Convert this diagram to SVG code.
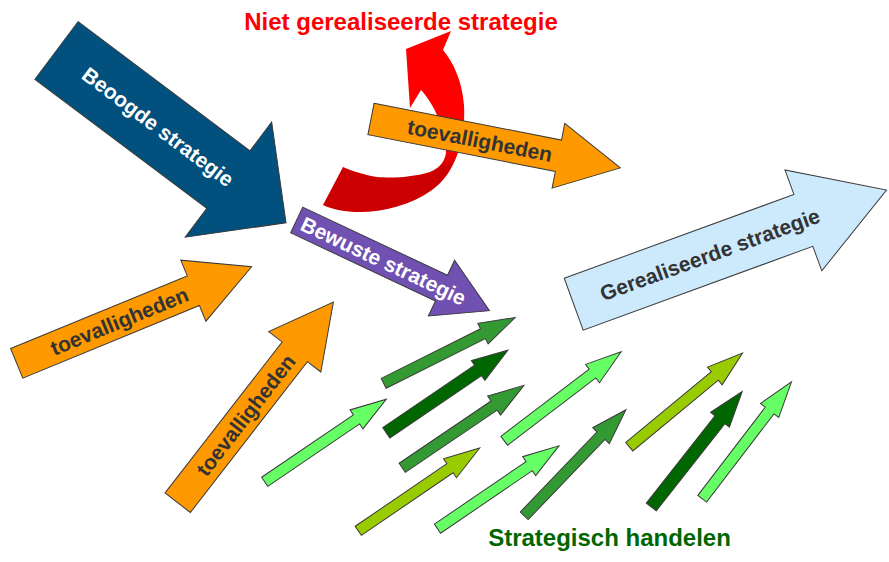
<svg xmlns="http://www.w3.org/2000/svg" xmlns:xlink="http://www.w3.org/1999/xlink" width="889" height="562" viewBox="0 0 889 562">
<style>
.lbl{font-family:"Liberation Sans",Arial,sans-serif;font-weight:bold;text-anchor:middle}
.edge{stroke:#3a3a3a;stroke-width:1;stroke-linejoin:miter}
.orange{fill:#ff9900}
.mid{fill:#339933}
.dark{fill:#006600}
.light{fill:#66ff66}
.yg{fill:#99cc00}
</style>
<defs>
<path id="sa" d="M0,-5.5 L111,-5.5 L111,-11.5 L147,0 L111,11.5 L111,5.5 L0,5.5 Z"/>
<path id="sad" d="M0,-6.3 L111,-6.3 L111,-12 L147,0 L111,12 L111,6.3 L0,6.3 Z"/>
<path id="ta" d="M0,-16 L191,-16 L191,-33 L254,0 L191,33 L191,16 L0,16 Z"/>
<linearGradient id="redg" gradientUnits="userSpaceOnUse" x1="0" y1="30" x2="0" y2="215">
<stop offset="0.66" stop-color="#ff0000"/>
<stop offset="0.74" stop-color="#cc0000"/>
</linearGradient>
</defs>
<rect width="889" height="562" fill="#ffffff"/>
<g id="title"><text class="lbl" x="401" y="30" font-size="24" fill="#ff0000">Niet gerealiseerde strategie</text></g>
<g id="beoogde" transform="translate(56.5,50.5) rotate(36.9)">
<path class="edge" fill="#01507d" d="M0,-36 L215,-36 L215,-72 L287,0 L215,72 L215,36 L0,36 Z"/>
<text class="lbl" x="127" y="7.5" font-size="21" fill="#ffffff">Beoogde strategie</text>
</g>
<g id="niet-gerealiseerd">
<path fill="url(#redg)" d="M451,31 L406,49 L410,108 L421,90 C432,102 442,120 446,148 C447,160 440,168 430,172 C410,178 390,178 377,177 C365,175 352,171 343,167 L323,205 C350,218 400,213 432,190 C455,174 466,140 464,105 C462,80 453,62 443,50 Z"/>
</g>
<g id="toeval-top" transform="translate(371,119) rotate(11.1)">
<use href="#ta" xlink:href="#ta" class="orange edge"/>
<text class="lbl" x="111" y="7.5" font-size="21" fill="#333333">toevalligheden</text>
</g>
<g id="toeval-left" transform="translate(16.7,363.3) rotate(-22.35)">
<use href="#ta" xlink:href="#ta" class="orange edge"/>
<text class="lbl" x="111" y="7.5" font-size="21" fill="#333333">toevalligheden</text>
</g>
<g id="toeval-bottom" transform="translate(177.7,502.7) rotate(-52.2)">
<use href="#ta" xlink:href="#ta" class="orange edge"/>
<text class="lbl" x="111" y="7.5" font-size="21" fill="#333333">toevalligheden</text>
</g>
<g id="bewuste" transform="translate(296.7,220) rotate(25.2)">
<path class="edge" fill="#7050b0" d="M0,-14.2 L160,-14.2 L160,-30.8 L213,0 L160,30.8 L160,14.2 L0,14.2 Z"/>
<text class="lbl" x="96" y="7.5" font-size="21" fill="#ffffff">Bewuste strategie</text>
</g>
<g id="gerealiseerd" transform="translate(573.7,304.2) rotate(-20.05)">
<path class="edge" fill="#cde9fc" d="M0,-27.6 L244.5,-27.6 L244.5,-53.7 L333,0 L244.5,53.7 L244.5,27.6 L0,27.6 Z"/>
<text class="lbl" x="145" y="7.5" font-size="21" fill="#333333">Gerealiseerde strategie</text>
</g>
<g id="handelen-arrows">
<use href="#sa" xlink:href="#sa" class="mid edge" transform="translate(383.7,383.3) rotate(-26.57)"/>
<use href="#sad" xlink:href="#sad" class="dark edge" transform="translate(386.3,432.8) rotate(-34.2)"/>
<use href="#sa" xlink:href="#sa" class="mid edge" transform="translate(402.2,467.8) rotate(-34.1)"/>
<use href="#sa" xlink:href="#sa" class="light edge" transform="translate(264.7,481.8) rotate(-34.2)"/>
<use href="#sa" xlink:href="#sa" class="yg edge" transform="translate(358.3,530.8) rotate(-34.3)"/>
<use href="#sa" xlink:href="#sa" class="light edge" transform="translate(437.5,528.7) rotate(-34.3)"/>
<use href="#sa" xlink:href="#sa" class="light edge" transform="translate(504.2,440.8) rotate(-37.3)"/>
<use href="#sa" xlink:href="#sa" class="mid edge" transform="translate(524.2,515.8) rotate(-46.2)"/>
<use href="#sa" xlink:href="#sa" class="yg edge" transform="translate(629.3,446.7) rotate(-39.6)"/>
<use href="#sad" xlink:href="#sad" class="dark edge" transform="translate(651.3,507) rotate(-51.8)"/>
<use href="#sa" xlink:href="#sa" class="light edge" transform="translate(702.2,498.7) rotate(-52.6)"/>
</g>
<g id="handelen-label"><text class="lbl" x="609.5" y="546" font-size="24" fill="#006600">Strategisch handelen</text></g>
</svg>
